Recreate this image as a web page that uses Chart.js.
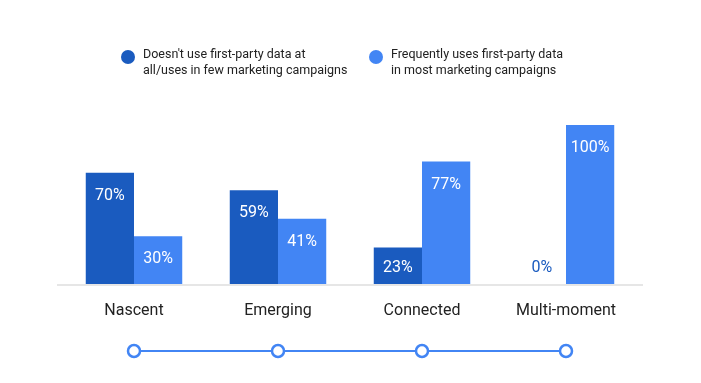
<!DOCTYPE html>
<html>
<head>
<meta charset="utf-8">
<script src="https://cdn.jsdelivr.net/npm/chart.js@4"></script>
<style>
  html, body { margin: 0; padding: 0; background: #fff; }
  #wrap { position: relative; width: 701px; height: 383px; }
  #chart { position: absolute; left: 0; top: 0; }
  .leg { position: absolute; top: 46px; font: 12.5px Roboto, sans-serif; line-height: 16px; color: #222; }
  .leg i { position: absolute; left: -22px; top: 4px; width: 14px; height: 14px; border-radius: 50%; }
</style>
</head>
<body>
<div id="wrap">
  <canvas id="chart" width="701" height="383"></canvas>
  <div class="leg" style="left:143px"><i style="background:#1a5bbf"></i><span id="leg0"></span></div>
  <div class="leg" style="left:391px"><i style="background:#4285f4"></i><span id="leg1"></span></div>
</div>
<script>
/* DATA */
const categories = ["Nascent", "Emerging", "Connected", "Multi-moment"];
const seriesNames = [
  ["Doesn't use first-party data at", "all/uses in few marketing campaigns"],
  ["Frequently uses first-party data", "in most marketing campaigns"]
];
const fewValues = [70, 59, 23, 0];
const frequentValues = [30, 41, 77, 100];

const darkBlue = "#1a5bbf";
const lightBlue = "#4285f4";

document.getElementById("leg0").innerHTML = seriesNames[0].join("<br>");
document.getElementById("leg1").innerHTML = seriesNames[1].join("<br>");

/* VALUE LABELS INSIDE BARS */
const valueLabels = {
  id: "valueLabels",
  afterDatasetsDraw(chart) {
    const ctx = chart.ctx;
    const base = chart.chartArea.bottom;
    ctx.save();
    ctx.font = "16px Roboto, sans-serif";
    ctx.textAlign = "center";
    ctx.textBaseline = "middle";
    chart.data.datasets.forEach((ds, i) => {
      chart.getDatasetMeta(i).data.forEach((bar, j) => {
        const v = ds.data[j];
        let y = Math.min(bar.y + 23, base - 16);
        ctx.fillStyle = v === 0 ? ds.backgroundColor : "#fff";
        ctx.fillText(v + "%", bar.x, y);
      });
    });
    ctx.restore();
  }
};

/* BASELINE + TIMELINE */
const timeline = {
  id: "timeline",
  beforeDatasetsDraw(chart) {
    const ctx = chart.ctx;
    const a = chart.chartArea;
    ctx.save();
    ctx.strokeStyle = "#e6e6e6";
    ctx.lineWidth = 2;
    ctx.beginPath();
    ctx.moveTo(a.left - 5, a.bottom + 1);
    ctx.lineTo(a.right + 5, a.bottom + 1);
    ctx.stroke();
    ctx.restore();
  },
  afterDraw(chart) {
    const ctx = chart.ctx;
    const x = chart.scales.x;
    const y = 351;
    const xs = categories.map((c, i) => x.getPixelForValue(i));
    ctx.save();
    ctx.strokeStyle = lightBlue;
    ctx.lineWidth = 2;
    ctx.beginPath();
    ctx.moveTo(xs[0], y);
    ctx.lineTo(xs[xs.length - 1], y);
    ctx.stroke();
    xs.forEach(px => {
      ctx.beginPath();
      ctx.arc(px, y, 6, 0, Math.PI * 2);
      ctx.fillStyle = "#fff";
      ctx.fill();
      ctx.lineWidth = 2.5;
      ctx.stroke();
    });
    ctx.restore();
  }
};

new Chart(document.getElementById("chart"), {
  type: "bar",
  data: {
    labels: categories,
    datasets: [
      { label: seriesNames[0].join(" "), data: fewValues, backgroundColor: darkBlue },
      { label: seriesNames[1].join(" "), data: frequentValues, backgroundColor: lightBlue }
    ]
  },
  options: {
    responsive: false,
    animation: false,
    layout: { padding: { left: 62, right: 63, top: 125, bottom: 49 } },
    plugins: { legend: { display: false }, tooltip: { enabled: false } },
    datasets: { bar: { barPercentage: 1, categoryPercentage: 0.67 } },
    scales: {
      y: { display: false, min: 0, max: 100 },
      x: {
        grid: { display: false },
        border: { display: false },
        ticks: { color: "#222", font: { family: "Roboto", size: 16 }, padding: 9 },
        afterFit(scale) { scale.height = 50; }
      }
    }
  },
  plugins: [valueLabels, timeline]
});
</script>
</body>
</html>
